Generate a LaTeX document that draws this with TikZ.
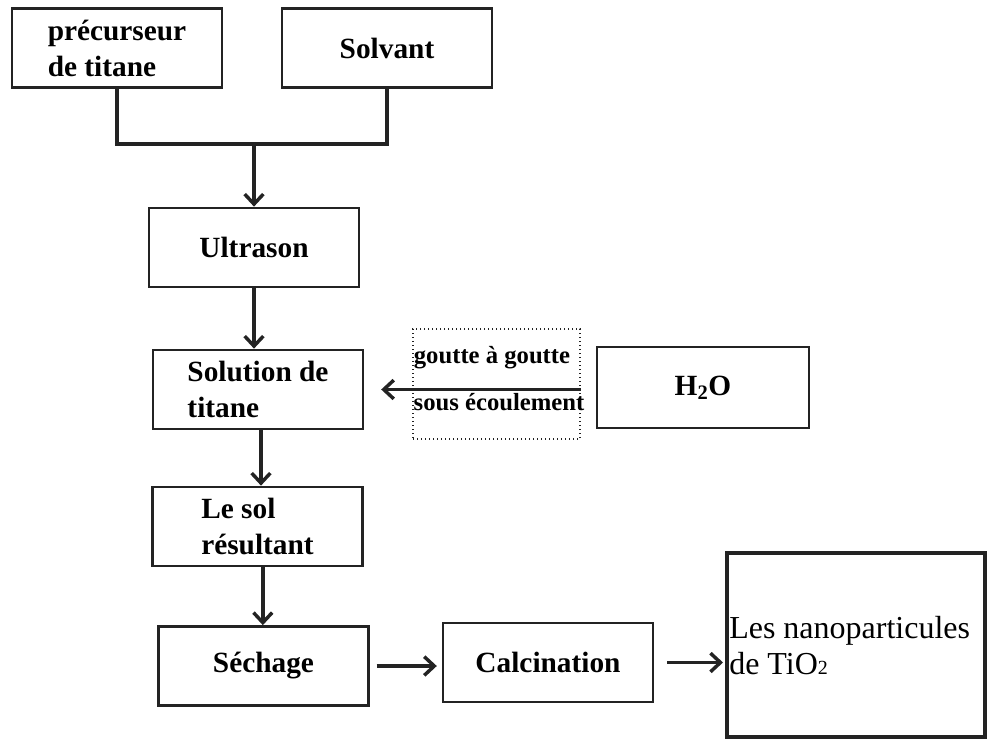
\documentclass[tikz,border=0pt]{standalone}
\usepackage{fontspec}
\setmainfont{Liberation Serif}
\usepackage{tikz}
\usetikzlibrary{arrows.meta}

\begin{document}
\begin{tikzpicture}[x=0.75pt,y=0.75pt,yscale=-1,xscale=1,
  stepbox/.style={draw={rgb, 255:red, 35; green, 35; blue, 35 }, line width=1.8pt, inner sep=0pt,
    minimum width=157.5pt, minimum height=59.5pt, align=left,
    font=\bfseries\fontsize{22}{27}\selectfont},
  link/.style={draw={rgb, 255:red, 35; green, 35; blue, 35 }, line width=2.6pt},
  arr/.style={link, -{Straight Barb[length=7.5pt,width=14pt]}},
  droplabel/.style={inner sep=0pt, font=\bfseries\fontsize{18.5}{20}\selectfont}]
\useasboundingbox (0,0) rectangle (989,739);

% Boxes
\draw (117,48) node (prec) [stepbox] {précurseur\\de titane};
\draw (387,48) node (solv) [stepbox] {Solvant};
\draw (254,247.5) node (ultra) [stepbox] {Ultrason};
\draw (258,389.5) node (sol) [stepbox] {Solution de\\titane};
\draw (257.5,526.5) node (res) [stepbox] {Le sol\\résultant};
\draw (263.5,666) node (sech) [stepbox] {Séchage};
\draw (548,662.5) node (calc) [stepbox] {Calcination};
\draw (703,387.5) node (water) [stepbox, minimum width=159pt, minimum height=60.75pt] {H\textsubscript{2}O};
% Dotted box
\draw (496.5,384) node (drip) [draw={rgb, 255:red, 35; green, 35; blue, 35 }, dotted, line width=1pt,
  minimum width=125.25pt, minimum height=82.5pt, inner sep=0pt] {};
% Final box
\draw (856,645) node (nano) [draw={rgb, 255:red, 35; green, 35; blue, 35 }, line width=3pt,
  minimum width=193.5pt, minimum height=138pt, inner sep=0pt] {};

% Text Node
\draw (492,358) node (drop1) [droplabel] {goutte à goutte};
% Text Node
\draw (499,402) node (drop2) [droplabel] {sous écoulement};
% Text Node
\draw (729,646) node (nanotext) [anchor=west, inner sep=0pt, align=left,
  font=\fontsize{24}{27}\selectfont] {Les nanoparticules\\de TiO{\fontsize{15}{15}\selectfont 2}};

% Merge lines
\coordinate (join) at (254,144);
\draw [link] (prec.south) -- (prec.south |- join) -- (solv.south |- join) -- (solv.south);
\draw [arr] (join) -- (join |- ultra.north);
% Vertical arrows
\draw [arr] (ultra.south) -- (ultra.south |- sol.north);
\draw [arr] ([xshift=2.25pt]sol.south) -- ([xshift=2.25pt]sol.south |- res.north);
\draw [arr] ([xshift=4pt]res.south) -- ([xshift=4pt]res.south |- sech.north);
% Horizontal arrows
\draw [arr, shorten >=12.75pt] (drip.east |- sol) -- (sol.east);
\draw [arr, shorten <=5.25pt, shorten >=3.75pt] (sech.east) -- (sech.east -| calc.west);
\draw [arr, shorten <=9.75pt, shorten >=1.5pt] (calc.east) -- (calc.east -| nano.west);

\end{tikzpicture}
\end{document}
